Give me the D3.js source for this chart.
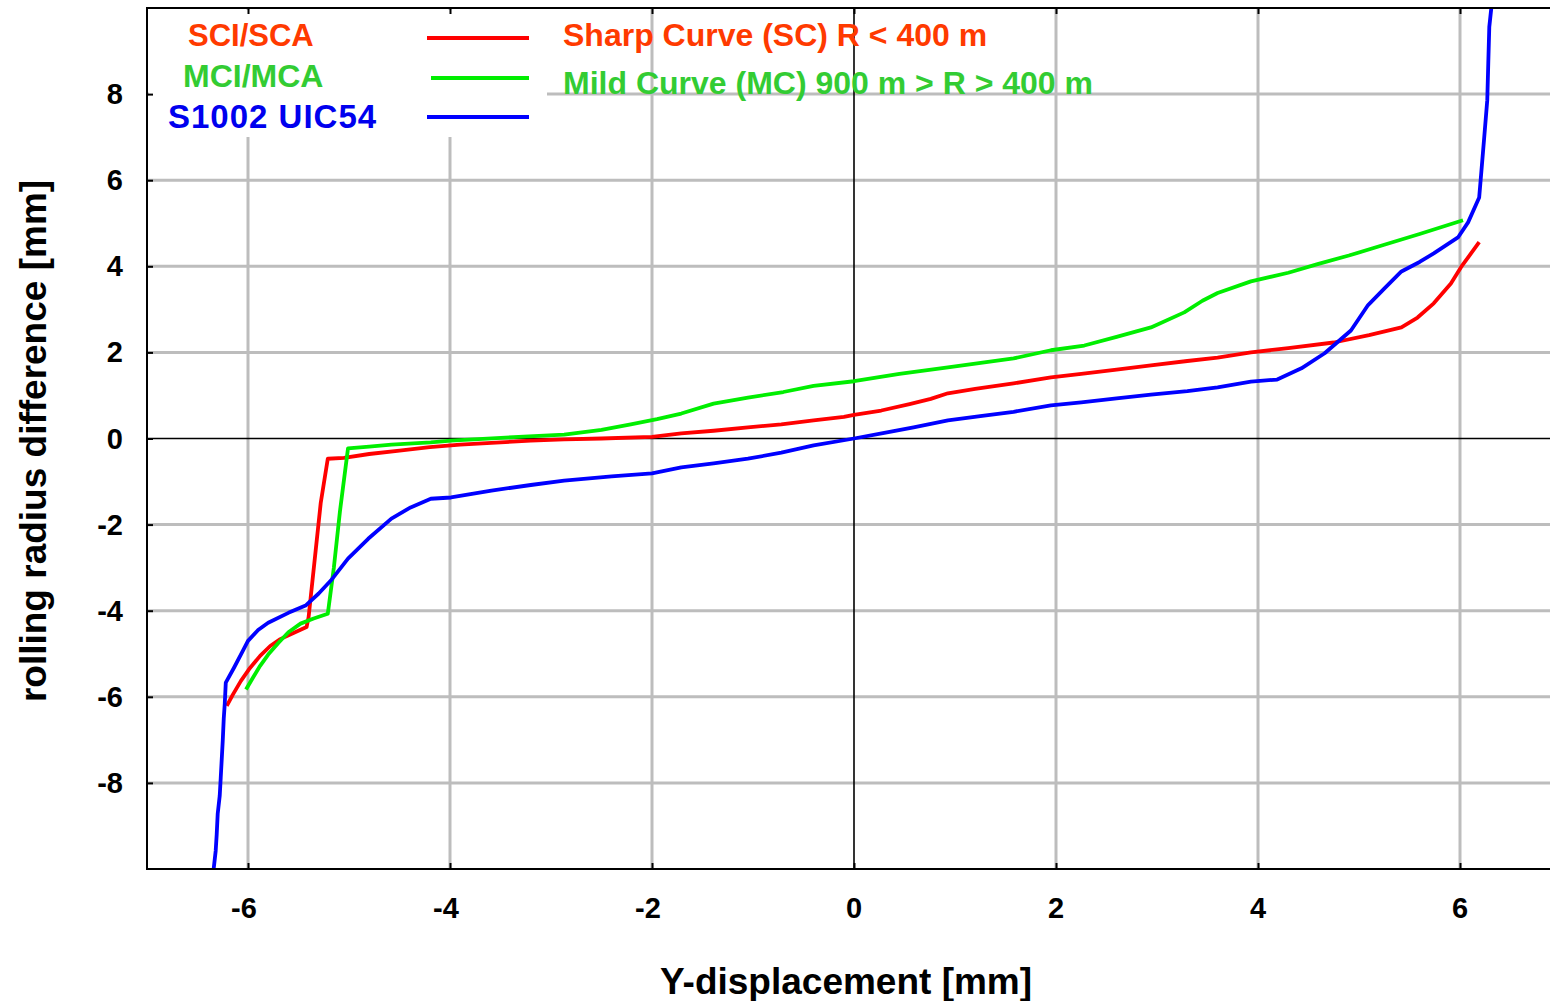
<!DOCTYPE html>
<html>
<head>
<meta charset="utf-8">
<script src="https://cdn.jsdelivr.net/npm/d3@7"></script>
<style>
  html, body { margin: 0; padding: 0; background: #fff; }
  svg { display: block; }
  text { font-family: "Liberation Sans", Arial, Helvetica, sans-serif; font-weight: bold; }
</style>
</head>
<body>
<svg id="chart" width="1550" height="1001"></svg>
<script>
// Rolling radius difference vs lateral (Y) displacement for three wheel/rail profile pairs.
const xTicks = [-6, -4, -2, 0, 2, 4, 6];
const yTicks = [-8, -6, -4, -2, 0, 2, 4, 6, 8];

// Sharp curve (SCI/SCA), [Y-displacement mm, rolling radius difference mm]
const sharpCurve = [
  [-6.21,-6.21],[-6.15,-5.95],[-6.07,-5.63],[-5.98,-5.33],[-5.88,-5.05],[-5.78,-4.82],
  [-5.68,-4.66],[-5.55,-4.52],[-5.42,-4.38],[-5.40,-4.15],[-5.33,-2.60],[-5.28,-1.50],
  [-5.21,-0.47],[-5.05,-0.45],[-4.80,-0.36],[-4.50,-0.28],[-4.20,-0.20],[-3.90,-0.14],
  [-3.59,-0.10],[-3.20,-0.05],[-2.87,-0.02],[-2.50,0.00],[-2.00,0.04],[-1.71,0.12],
  [-1.39,0.18],[-1.05,0.26],[-0.72,0.33],[-0.40,0.42],[-0.10,0.50],[0.00,0.55],
  [0.27,0.65],[0.55,0.80],[0.76,0.92],[0.93,1.05],[1.20,1.15],[1.58,1.28],[1.95,1.42],
  [2.25,1.50],[2.60,1.60],[2.94,1.70],[3.30,1.80],[3.60,1.88],[3.93,2.00],[4.30,2.10],
  [4.75,2.23],[5.10,2.40],[5.42,2.58],[5.58,2.81],[5.74,3.14],[5.91,3.60],[6.01,3.98],
  [6.19,4.56]
];

// Mild curve (MCI/MCA)
const mildCurve = [
  [-6.02,-5.83],[-5.95,-5.55],[-5.88,-5.28],[-5.80,-5.02],[-5.70,-4.75],[-5.60,-4.50],
  [-5.48,-4.30],[-5.35,-4.18],[-5.21,-4.07],[-5.15,-3.00],[-5.09,-1.70],[-5.01,-0.23],
  [-4.80,-0.19],[-4.58,-0.14],[-4.19,-0.09],[-3.99,-0.05],[-3.37,0.03],[-2.87,0.09],
  [-2.50,0.20],[-2.21,0.33],[-1.95,0.45],[-1.71,0.58],[-1.39,0.81],[-1.05,0.95],
  [-0.70,1.08],[-0.40,1.22],[0.00,1.33],[0.45,1.50],[0.93,1.65],[1.58,1.86],[1.95,2.05],
  [2.28,2.16],[2.60,2.36],[2.94,2.58],[3.27,2.93],[3.45,3.20],[3.60,3.38],[3.93,3.65],
  [4.30,3.85],[4.59,4.05],[4.90,4.25],[5.25,4.50],[5.60,4.75],[6.03,5.07]
];

// S1002 wheel on UIC54 rail
const s1002 = [
  [-6.34,-10.0],[-6.32,-9.58],[-6.31,-9.20],[-6.30,-8.72],[-6.28,-8.30],[-6.27,-7.88],
  [-6.25,-7.02],[-6.24,-6.50],[-6.23,-6.16],[-6.22,-5.67],[-6.14,-5.33],[-6.05,-4.93],
  [-6.00,-4.70],[-5.90,-4.45],[-5.80,-4.28],[-5.60,-4.05],[-5.43,-3.88],[-5.30,-3.60],
  [-5.18,-3.30],[-5.01,-2.79],[-4.81,-2.33],[-4.58,-1.86],[-4.39,-1.60],[-4.19,-1.40],
  [-3.99,-1.37],[-3.59,-1.21],[-3.20,-1.08],[-2.87,-0.98],[-2.40,-0.88],[-2.00,-0.81],
  [-1.71,-0.67],[-1.39,-0.58],[-1.05,-0.47],[-0.72,-0.33],[-0.40,-0.16],[0.00,0.00],
  [0.30,0.13],[0.59,0.26],[0.93,0.42],[1.25,0.52],[1.58,0.62],[1.95,0.77],[2.25,0.84],
  [2.60,0.93],[2.94,1.02],[3.30,1.10],[3.60,1.19],[3.93,1.32],[4.19,1.37],[4.43,1.63],
  [4.66,1.98],[4.92,2.51],[5.09,3.10],[5.25,3.48],[5.42,3.88],[5.60,4.10],[5.74,4.30],
  [5.98,4.67],[6.08,5.02],[6.19,5.60],[6.21,6.16],[6.24,7.00],[6.27,7.86],[6.28,8.72],
  [6.29,9.56],[6.31,10.0]
];

const legendNames = ["SCI/SCA", "MCI/MCA", "S1002 UIC54"];
const legendTextColors = ["#ff3a00", "#33cc33", "#0000ee"];
const lineColors = ["#ff0000", "#00ee00", "#0000ff"];
const notes = ["Sharp Curve (SC) R < 400 m", "Mild Curve (MC) 900 m > R > 400 m"];

const svg = d3.select("#chart");
const plotLeft = 147, plotTop = 8, plotBottom = 869, plotRight = 1561;

const x = d3.scaleLinear().domain([-7, 7]).range([plotLeft, plotRight]);
const y = d3.scaleLinear().domain([-10, 10]).range([plotBottom, plotTop]);

// grid
const grid = svg.append("g");
grid.selectAll("line.gx").data(xTicks.filter(d => d !== 0)).join("line")
  .attr("class", "gx")
  .attr("x1", d => x(d)).attr("x2", d => x(d)).attr("y1", plotTop).attr("y2", plotBottom)
  .attr("stroke", "#bdbdbd").attr("stroke-width", 3);
grid.selectAll("line.gy").data(yTicks.filter(d => d !== 0)).join("line")
  .attr("class", "gy")
  .attr("y1", d => y(d)).attr("y2", d => y(d)).attr("x1", plotLeft).attr("x2", plotRight)
  .attr("stroke", "#bdbdbd").attr("stroke-width", 3);

// legend backdrop
svg.append("rect").attr("x", plotLeft + 2).attr("y", plotTop + 2)
  .attr("width", 398).attr("height", 127).attr("fill", "#fff");

// zero lines
svg.append("line").attr("x1", x(0)).attr("x2", x(0)).attr("y1", plotTop).attr("y2", plotBottom)
  .attr("stroke", "#000").attr("stroke-width", 1.6);
svg.append("line").attr("x1", plotLeft).attr("x2", plotRight).attr("y1", y(0)).attr("y2", y(0))
  .attr("stroke", "#000").attr("stroke-width", 1.6);

// curves
const line = d3.line().x(d => x(d[0])).y(d => y(d[1]));
[sharpCurve, mildCurve, s1002].forEach((s, i) => {
  svg.append("path").datum(s).attr("d", line)
    .attr("fill", "none").attr("stroke", lineColors[i])
    .attr("stroke-width", 3.8).attr("stroke-linejoin", "round");
});

// frame
svg.append("path")
  .attr("d", `M${plotRight},${plotTop}H${plotLeft}V${plotBottom}H${plotRight}`)
  .attr("fill", "none").attr("stroke", "#000").attr("stroke-width", 2);

// inward ticks via d3 axes
const tickStyle = g => {
  g.select(".domain").remove();
  g.selectAll(".tick line").attr("stroke", "#000").attr("stroke-width", 2);
};
svg.append("g").attr("transform", `translate(0,${plotBottom})`)
  .call(d3.axisBottom(x).tickValues(xTicks).tickSize(-6).tickFormat(""))
  .call(tickStyle);
svg.append("g").attr("transform", `translate(0,${plotTop})`)
  .call(d3.axisTop(x).tickValues(xTicks).tickSize(-6).tickFormat(""))
  .call(tickStyle);
svg.append("g").attr("transform", `translate(${plotLeft},0)`)
  .call(d3.axisLeft(y).tickValues(yTicks).tickSize(-6).tickFormat(""))
  .call(tickStyle);

// tick labels
svg.append("g").selectAll("text").data(xTicks).join("text")
  .attr("x", d => x(d) - (d < 0 ? 4 : 0)).attr("y", 918)
  .attr("text-anchor", "middle").attr("font-size", 29).attr("fill", "#000")
  .text(d => d);
svg.append("g").selectAll("text").data(yTicks).join("text")
  .attr("x", 123).attr("y", d => y(d) + 10)
  .attr("text-anchor", "end").attr("font-size", 29).attr("fill", "#000")
  .text(d => d);

// axis titles
svg.append("text").attr("x", 846).attr("y", 994).attr("text-anchor", "middle")
  .attr("font-size", 37).attr("fill", "#000").text("Y-displacement [mm]");
svg.append("text").attr("transform", "translate(46,441) rotate(-90)")
  .attr("text-anchor", "middle").attr("font-size", 37).attr("fill", "#000")
  .text("rolling radius difference [mm]");

// legend
const legX = [188, 183, 168];
const legY = [46, 87, 128];
const legSize = [31, 32, 33];
const legSpacing = [0, 0, 1];
const legLineY = [38, 78, 117];
const legLineX1 = [427, 431, 427];
legendNames.forEach((n, i) => {
  svg.append("text").attr("x", legX[i]).attr("y", legY[i])
    .attr("font-size", legSize[i]).attr("letter-spacing", legSpacing[i])
    .attr("fill", legendTextColors[i]).text(n);
  svg.append("line").attr("x1", legLineX1[i]).attr("x2", 529)
    .attr("y1", legLineY[i]).attr("y2", legLineY[i])
    .attr("stroke", lineColors[i]).attr("stroke-width", 4);
});
notes.forEach((t, i) => {
  svg.append("text").attr("x", 563).attr("y", [46, 94][i])
    .attr("font-size", 32).attr("fill", legendTextColors[i]).text(t);
});
</script>
</body>
</html>
